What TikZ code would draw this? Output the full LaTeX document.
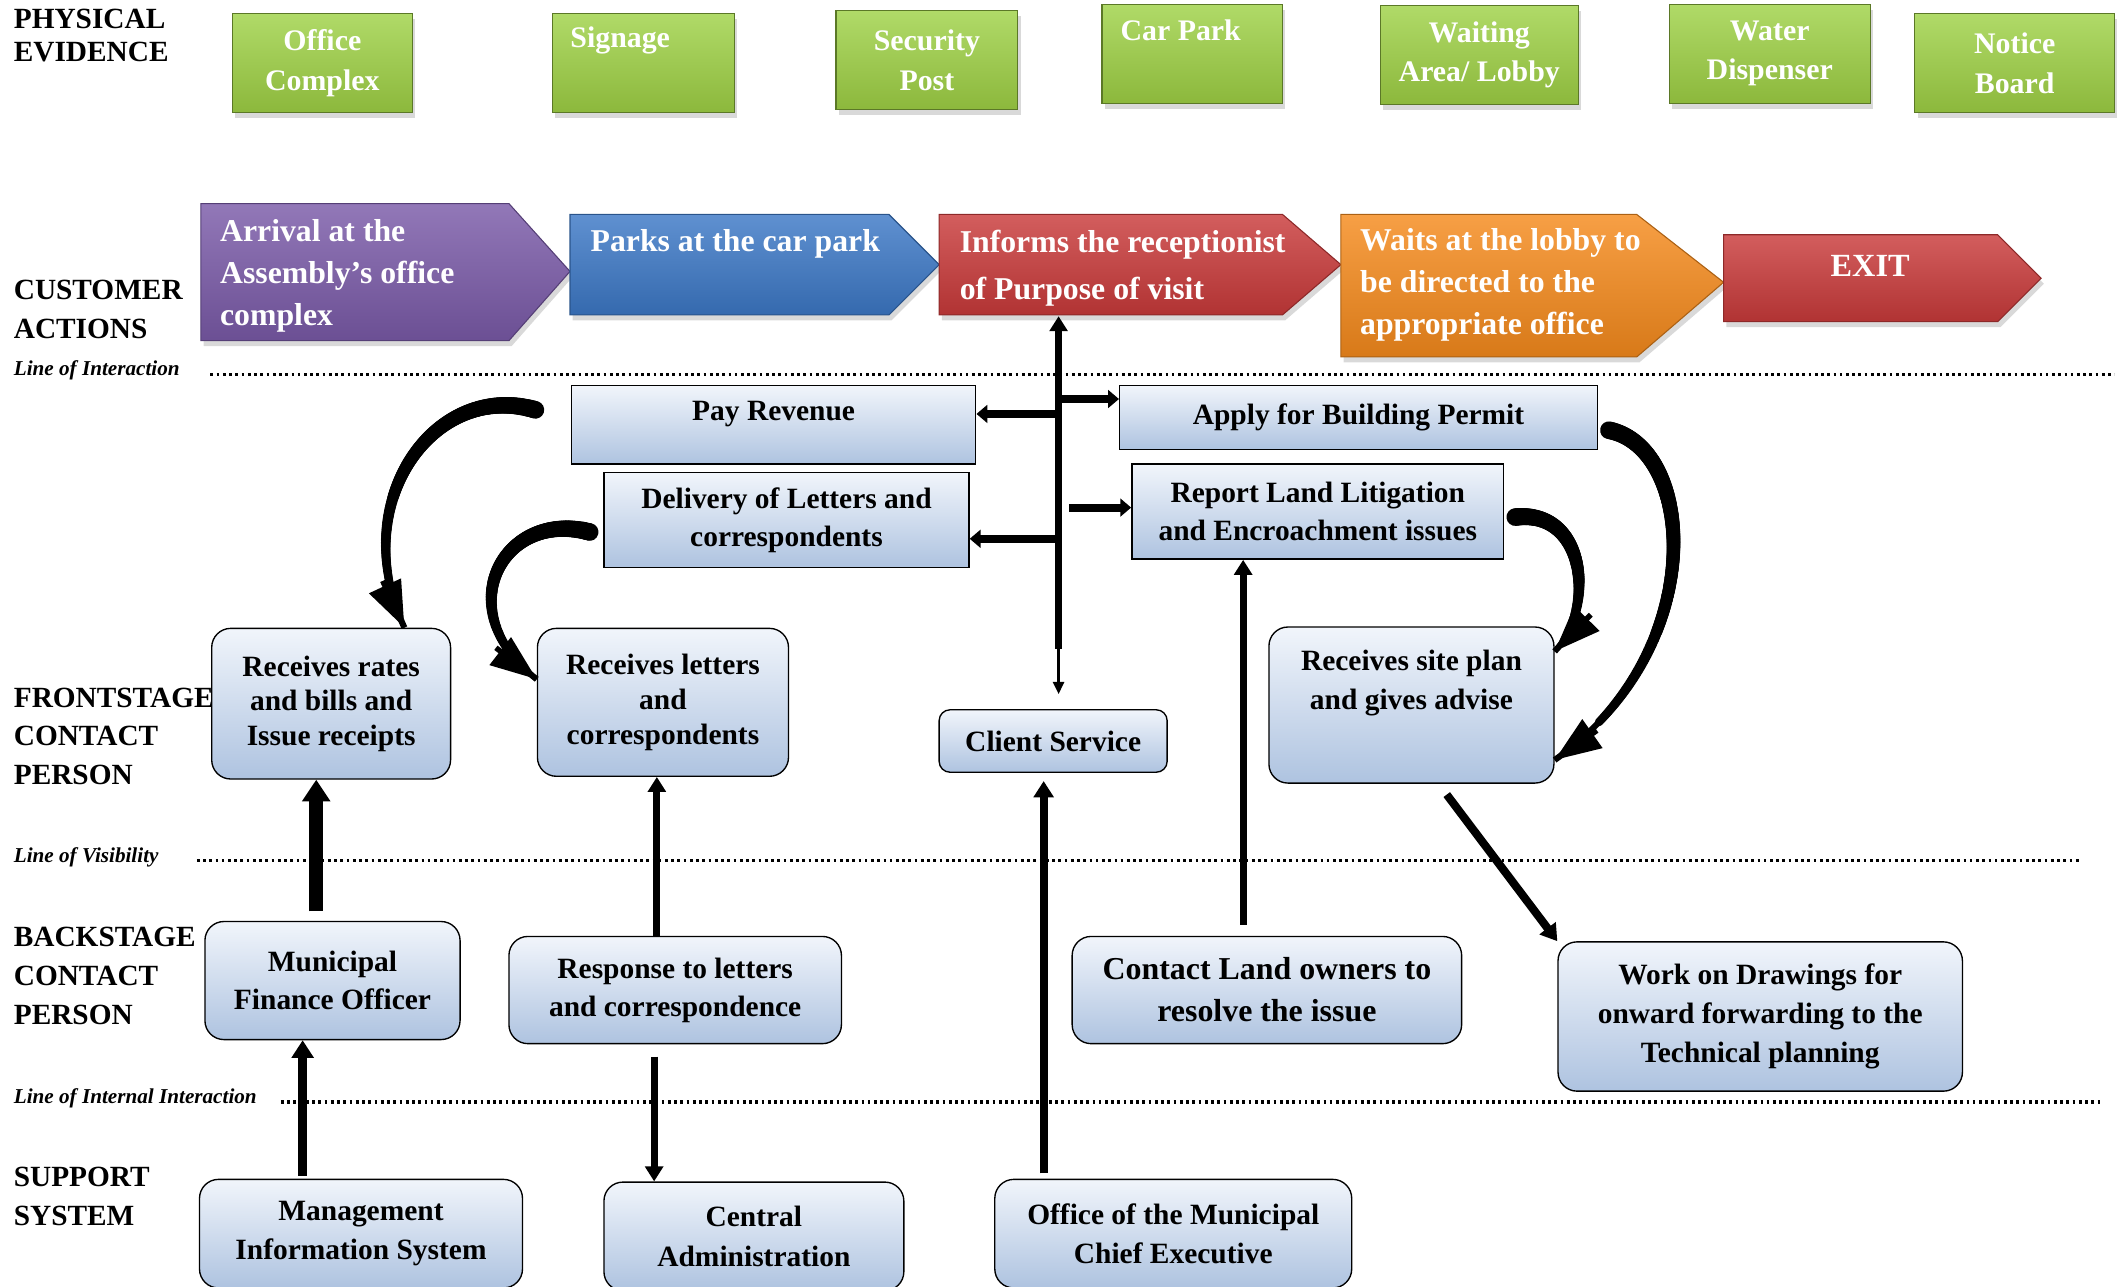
\documentclass[tikz,border=0pt]{standalone}
\usepackage{fontspec}
\setmainfont{Liberation Serif}
\usetikzlibrary{arrows.meta,shadows,decorations.markings,calc}

\definecolor{pegreen}{HTML}{8CB83C}
\definecolor{pegreenhi}{HTML}{B0DA68}
\definecolor{capurple}{HTML}{7A5AA8}
\definecolor{cablue}{HTML}{3C78C6}
\definecolor{cared}{HTML}{C93A3A}
\definecolor{caorange}{HTML}{F58A1C}
\definecolor{boxtop}{HTML}{F1F5FB}
\definecolor{boxbot}{HTML}{AEC3E0}

\tikzset{
  txt/.style={font=\fontsize{21.7}{28}\selectfont\bfseries, align=center, inner sep=0pt},
  petxt/.style={txt, text=white},
  pe/.style={petxt, font=\fontsize{22}{29}\selectfont\bfseries, draw=pegreen!65!black, line width=0.8pt,
    top color=pegreenhi, bottom color=pegreen, minimum height=73pt,
    drop shadow={opacity=.3, shadow xshift=2pt, shadow yshift=-4pt}},
  act/.style={draw=#1!70!black, line width=0.8pt, top color=#1!82!white, bottom color=#1!88!black,
    drop shadow={opacity=.3, shadow xshift=2pt, shadow yshift=-4pt}},
  acttxt/.style={petxt, font=\fontsize{23.4}{31}\selectfont\bfseries, align=left, anchor=west},
  ibox/.style={txt, draw, line width=1pt, top color=boxtop, bottom color=boxbot},
  rbox/.style={ibox, rounded corners=14pt},
  lane/.style={txt, font=\fontsize{21.6}{28.5}\selectfont\bfseries, align=left, anchor=west},
  lineof/.style={font=\fontsize{15.6}{17}\selectfont\bfseries\itshape, anchor=west, inner sep=0pt},
  sepline/.style={line width=2.6pt, dash pattern=on 2pt off 2.6pt},
  flow/.style={line width=#1, -{Triangle[length=6pt 1, width=6pt 1.4]}},
  flow/.default=5pt,
  branch/.style={line width=6pt, -{Triangle[length=8pt, width=13pt]}},
  curved/.style={line width=4.5pt, postaction={decorate, decoration={markings,
    mark=between positions 0 and 0.85 step 1pt with {
      \pgfmathsetmacro\taperrad{6.5-4*(\pgfkeysvalueof{/pgf/decoration/mark info/distance from start})/(\pgfdecoratedpathlength)}
      \fill (0,0) circle[radius=\taperrad pt];}}}},
  curvetip/.style={line width=4pt, -{Triangle[length=34pt, width=25pt]}},
}

\begin{document}
\begin{tikzpicture}[x=1pt, y=-1pt]
  \useasboundingbox (0,0) rectangle (1568,948);
  \clip (0,0) rectangle (1568,948);

  \node[lane, font=\fontsize{21.6}{24}\selectfont\bfseries] (physical) at (10,26) {PHYSICAL\\EVIDENCE};
  \node[lane] (customer) at (10,228) {CUSTOMER\\ACTIONS};
  \node[lane] (front) at (10,542.5) {FRONTSTAGE\\CONTACT\\PERSON};
  \node[lane] (back) at (10,719) {BACKSTAGE\\CONTACT\\PERSON};
  \node[lane] (support) at (10,881.5) {SUPPORT\\SYSTEM};

  \node[lineof] (interaction) at (10,273) {Line of Interaction};
  \node[lineof] (visibility) at (10,632) {Line of Visibility};
  \node[lineof] (internal) at (10,809) {Line of Internal Interaction};
  \draw[sepline] (155,276) -- (1558,276);
  \draw[sepline] (145,634) -- (1532,634);
  \draw[sepline] (207,812) -- (1547,812);

  \node[pe, minimum width=133pt] (office) at (237.5,46.5) {Office\\Complex};
  \node[pe, minimum width=134pt] (signage) at (474,46.5) {};
  \node[petxt, font=\fontsize{22}{29}\selectfont\bfseries] (signagetxt) at (457,30) {Signage};
  \node[pe, minimum width=134pt] (security) at (683,44.5) {Security\\Post};
  \node[pe, minimum width=133pt] (carpark) at (878.5,39.5) {};
  \node[petxt, font=\fontsize{22}{29}\selectfont\bfseries] (carparktxt) at (870,22) {Car Park};
  \node[pe, minimum width=146pt] (lobby) at (1090,40.5) {Waiting\\Area/ Lobby};
  \node[pe, minimum width=148pt] (water) at (1304,39.5) {Water\\Dispenser};
  \node[pe, minimum width=147pt] (notice) at (1484.5,46.5) {Notice\\Board};

  \shade[act=capurple] (148,150) -- (375,150) -- (420,200) -- (375,251) -- (148,251) -- cycle;
  \node[acttxt] (arrive) at (162,203) {Arrival at the\\Assembly’s office\\complex};
  \shade[act=cablue] (420,158) -- (655,158) -- (692,195) -- (655,232) -- (420,232) -- cycle;
  \node[acttxt] (park) at (435,180) {Parks at the car park};
  \shade[act=cared] (692,158) -- (945,158) -- (988,195) -- (945,232) -- (692,232) -- cycle;
  \node[acttxt, font=\fontsize{23.4}{35}\selectfont\bfseries] (inform) at (707,197.5) {Informs the receptionist\\of Purpose of visit};
  \shade[act=caorange] (988,158) -- (1206,158) -- (1270,208) -- (1206,263) -- (988,263) -- cycle;
  \node[acttxt] (wait) at (1002,210) {Waits at the lobby to\\be directed to the\\appropriate office};
  \shade[act=cared] (1270,173) -- (1472,173) -- (1504,205) -- (1472,237) -- (1270,237) -- cycle;
  \node[petxt, font=\fontsize{23.8}{31}\selectfont\bfseries] (exit) at (1378,196) {EXIT};

  \node[ibox, minimum width=298pt, minimum height=58pt] (pay) at (570,313) {};
  \node[txt] (paytxt) at (570,305) {Pay Revenue};
  \node[ibox, minimum width=269pt, minimum height=70pt] (delivery) at (579.5,383) {Delivery of Letters and\\correspondents};
  \node[ibox, minimum width=352pt, minimum height=47pt] (permit) at (1001,307.5) {Apply for Building Permit};
  \node[ibox, minimum width=274pt, minimum height=70pt] (report) at (971,377) {Report Land Litigation\\and Encroachment issues};

  \node[rbox, minimum width=176pt, minimum height=111pt, font=\fontsize{21.7}{25.5}\selectfont\bfseries] (rates) at (244,518.5) {Receives rates\\and bills and\\Issue receipts};
  \node[rbox, minimum width=185pt, minimum height=109pt, font=\fontsize{21.7}{25.5}\selectfont\bfseries] (letters) at (488.5,517.5) {Receives letters\\and\\correspondents};
  \node[rbox, minimum width=168pt, minimum height=46pt, rounded corners=8pt] (client) at (776,546) {Client Service};
  \node[rbox, minimum width=210pt, minimum height=115pt] (site) at (1040,519.5) {};
  \node[txt, font=\fontsize{21.7}{29}\selectfont\bfseries] (sitetxt) at (1040,503.5) {Receives site plan\\and gives advise};
  \node[rbox, minimum width=188pt, minimum height=87pt] (mfo) at (245,722.5) {Municipal\\Finance Officer};
  \node[rbox, minimum width=245pt, minimum height=79pt] (response) at (497.5,729.5) {Response to letters\\and correspondence};
  \node[rbox, minimum width=287pt, minimum height=79pt, font=\fontsize{23.5}{31}\selectfont\bfseries] (contact) at (933.5,729.5) {Contact Land owners to\\resolve the issue};
  \node[rbox, minimum width=298pt, minimum height=110pt, font=\fontsize{21.7}{29}\selectfont\bfseries] (drawings) at (1297,749) {Work on Drawings for\\onward forwarding to the\\Technical planning};
  \node[rbox, minimum width=238pt, minimum height=80pt, font=\fontsize{21.7}{29}\selectfont\bfseries] (mis) at (266,909) {Management\\Information System};
  \node[rbox, minimum width=221pt, minimum height=80pt, font=\fontsize{21.7}{29}\selectfont\bfseries] (central) at (555.5,911) {Central\\Administration};
  \node[rbox, minimum width=263pt, minimum height=80pt, font=\fontsize{21.7}{29}\selectfont\bfseries] (mce) at (864.5,909) {Office of the Municipal\\Chief Executive};

  \coordinate (spinetop) at (780,233);
  \coordinate (spinebot) at (780,478);
  \draw[flow] (spinebot) -- (spinetop);
  \draw[line width=2pt, -{Triangle[length=9pt, width=8pt]}, shorten >=11pt] (spinebot) -- (client.north -| spinebot);
  \draw[branch] (780,305) -- (pay.east |- 780,305);
  \draw[branch] (780,397) -- (delivery.east |- 780,397);
  \draw[branch] (780,294) -- (permit.west |- 780,294);
  \draw[branch] (788,374) -- (report.west |- 788,374);

  \coordinate (payout) at ([xshift=-26pt, yshift=11pt]pay.west);
  \coordinate (ratesin) at ([xshift=54pt]rates.north);
  \coordinate (deliveryout) at ([xshift=-10pt, yshift=-9pt]delivery.west);
  \coordinate (lettersin) at ([yshift=17pt]letters.west);
  \coordinate (reportout) at ([xshift=8pt, yshift=-4pt]report.east);
  \coordinate (sitein1) at ([yshift=39.5pt]site.east);
  \coordinate (permitout) at ([xshift=8pt, yshift=-9.5pt]permit.east);
  \coordinate (sitein2) at ([yshift=-40.5pt]site.east);
  \draw[curved] (payout) .. controls (320,280) and (255,370) .. (ratesin);
  \draw[curvetip] ($(ratesin)!38pt!(255,370)$) -- (ratesin);
  \draw[curved] (deliveryout) .. controls (370,375) and (330,450) .. (lettersin);
  \draw[curvetip] ($(lettersin)!38pt!(330,450)$) -- (lettersin);
  \draw[curved] (reportout) .. controls (1170,375) and (1175,450) .. (sitein1);
  \draw[curvetip] ($(sitein1)!38pt!(1175,450)$) -- (sitein1);
  \draw[curved] (permitout) .. controls (1250,330) and (1260,480) .. (sitein2);
  \draw[curvetip] ($(sitein2)!38pt!(1260,480)$) -- (sitein2);

  \draw[flow=10pt, shorten <=7pt] (233,0 |- mfo.north) -- (233,0 |- rates.south);
  \draw[flow=7pt, shorten <=2pt] (223,0 |- mis.north) -- (223,0 |- mfo.south);
  \draw[flow] (484,0 |- response.north) -- (484,0 |- letters.south);
  \draw[flow, shorten <=9pt] (482,0 |- response.south) -- (482,0 |- central.north);
  \draw[flow=6pt, shorten <=4pt, shorten >=6pt] (769,0 |- mce.north) -- (769,0 |- client.south);
  \draw[flow, shorten <=8pt] (916,0 |- contact.north) -- (916,0 |- report.south);
  \draw[flow=6pt, shorten <=10pt] (1060,0 |- site.south) -- (drawings.north west);
\end{tikzpicture}
\end{document}
